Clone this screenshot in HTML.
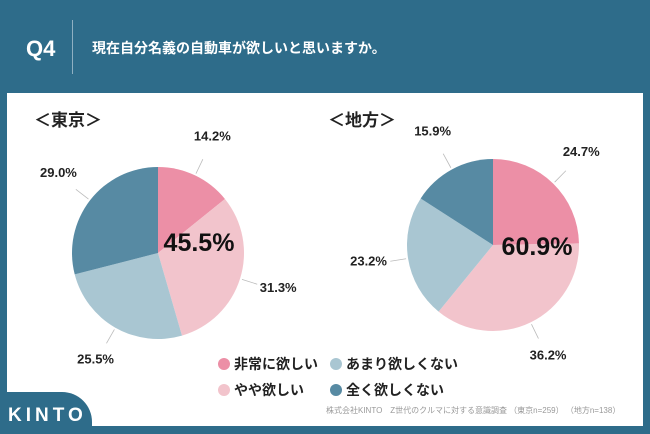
<!DOCTYPE html>
<html><head><meta charset="utf-8"><style>
body{margin:0;width:650px;height:434px;overflow:hidden;background:#2e6c8a;font-family:"Liberation Sans","Noto Sans CJK JP",sans-serif;}
#wrap{position:relative;width:650px;height:434px;}
.t{position:absolute;white-space:nowrap;}
</style></head><body>
<div id="wrap">
<div class="t" style="left:26px;top:36px;color:#fff;font-size:22px;font-weight:bold;">Q4</div>
<div style="position:absolute;left:72px;top:20px;width:1px;height:54px;background:#8fb0c2;"></div>
<div class="t" style="left:92px;top:38px;color:#fff;font-size:14px;font-weight:bold;">現在自分名義の自動車が欲しいと思いますか。</div>
<div style="position:absolute;left:7px;top:93px;width:636px;height:333px;background:#fff;"></div>
<svg id="svg" width="650" height="434" style="position:absolute;left:0;top:0"></svg>
<div class="t" style="left:34px;top:106px;font-size:17px;font-weight:bold;color:#222;">＜東京＞</div>
<div class="t" style="left:328px;top:106px;font-size:17px;font-weight:bold;color:#222;">＜地方＞</div>
<div style="position:absolute;left:218px;top:354px;font-size:14px;font-weight:bold;color:#222;">
 <div class="t" style="left:0;top:0"><span style="display:inline-block;width:12px;height:12px;border-radius:50%;background:#ec8fa6;vertical-align:-1px;margin-right:4px"></span>非常に欲しい</div>
 <div class="t" style="left:112px;top:0"><span style="display:inline-block;width:12px;height:12px;border-radius:50%;background:#a9c6d2;vertical-align:-1px;margin-right:4px"></span>あまり欲しくない</div>
 <div class="t" style="left:0;top:26px"><span style="display:inline-block;width:12px;height:12px;border-radius:50%;background:#f2c4cc;vertical-align:-1px;margin-right:4px"></span>やや欲しい</div>
 <div class="t" style="left:112px;top:26px"><span style="display:inline-block;width:12px;height:12px;border-radius:50%;background:#578aa3;vertical-align:-1px;margin-right:4px"></span>全く欲しくない</div>
</div>
<div class="t" style="left:326px;top:405px;font-size:8px;color:#999;">株式会社KINTO　Z世代のクルマに対する意識調査 （東京n=259） （地方n=138）</div>
<div style="position:absolute;left:0;top:392px;width:92px;height:42px;background:#2e6c8a;border-top-right-radius:30px;"></div>
<div class="t" style="left:8px;top:405px;font-size:19px;font-weight:bold;color:#fff;letter-spacing:4px;">KINTO</div>
</div>
<script>
const categories=["非常に欲しい","やや欲しい","あまり欲しくない","全く欲しくない"];
const tokyoValues=[14.2,31.3,25.5,29.0];
const localValues=[24.7,36.2,23.2,15.9];
const tokyoTotal="45.5%";
const localTotal="60.9%";
const colors=["#ec8fa6","#f2c4cc","#a9c6d2","#578aa3"];
const NS="http://www.w3.org/2000/svg";
const svg=document.getElementById('svg');
function pt(cx,cy,r,f){const a=f*2*Math.PI;return [cx+r*Math.sin(a),cy-r*Math.cos(a)];}
function mk(t,a){const e=document.createElementNS(NS,t);for(const k in a)e.setAttribute(k,a[k]);svg.appendChild(e);return e;}
function pie(name,vals,cx,cy,r,total,tx,ty){
 const sum=vals.reduce((a,b)=>a+b,0);let acc=0;
 vals.forEach((v,i)=>{
  const s=acc/sum,e=(acc+v)/sum;acc+=v;
  const p1=pt(cx,cy,r,s),p2=pt(cx,cy,r,e);
  const path=mk('path',{d:`M${cx},${cy}L${p1[0]},${p1[1]}A${r},${r} 0 ${e-s>0.5?1:0} 1 ${p2[0]},${p2[1]}Z`,fill:colors[i]});
  
  
  const m=(s+e)/2,l1=pt(cx,cy,r+2,m),l2=pt(cx,cy,r+18,m),lp=pt(cx,cy,r+40,m);
  const ln=mk('line',{x1:l1[0],y1:l1[1],x2:l2[0],y2:l2[1],stroke:'#bbb','stroke-width':0.8});
  
  
  const t=mk('text',{x:lp[0],y:lp[1]+1,'text-anchor':'middle','font-size':13,'font-weight':'bold',fill:'#222','font-family':'Liberation Sans, sans-serif'});
  t.textContent=v.toFixed(1)+'%';
  
  
 });
 const c=mk('text',{x:tx,y:ty,'text-anchor':'middle','font-size':25,'font-weight':'bold',fill:'#111','font-family':'Liberation Sans, sans-serif'});
 c.textContent=total;
 
 
}
pie('tokyo',tokyoValues,158,253,86,tokyoTotal,199,251);
pie('local',localValues,493,245,86,localTotal,537,255);
</script>
</body></html>
